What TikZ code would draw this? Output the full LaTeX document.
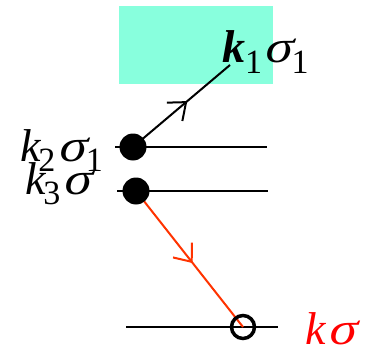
\documentclass[tikz,border=0pt]{standalone}
\usepackage{fontspec}
\setmainfont{Liberation Serif}
\newfontfamily\grk[FakeSlant=0.2]{Liberation Serif}
\usetikzlibrary{arrows.meta,decorations.markings}
\definecolor{boxcyan}{RGB}{136,255,221}
\definecolor{lred}{RGB}{255,51,0}
\newcommand\lsub[1]{\raisebox{-10pt}{\fontsize{34}{34}\selectfont #1}}
\newcommand\ksub[1]{\kern-3pt\lsub{#1}\kern2pt}
\newcommand\sig{\scalebox{1.15}[1]{\grk σ}}
\begin{document}
\begin{tikzpicture}[x=1pt,y=-1pt,
  lvl/.style={line width=2pt},
  dotnode/.style={circle,fill=black,inner sep=0pt,minimum size=27pt},
  holenode/.style={circle,draw=black,line width=3.5pt,inner sep=0pt,minimum size=23pt},
  lbl/.style={anchor=base west,inner sep=0pt,text height=30pt,text depth=0pt,font=\fontsize{46}{46}\selectfont},
  midarrow/.style={line width=2pt,decoration={markings,mark=at position #1 with {\arrow{Straight Barb[length=15pt,width=24pt,line width=2pt]}}},postaction={decorate}}
]
\useasboundingbox (0,0) rectangle (373,348);
\fill[boxcyan] (119,6) rectangle (273,84);
% coordinates
\coordinate (l1a) at (115,147); \coordinate (l1b) at (267,147);
\coordinate (l2a) at (117,191); \coordinate (l2b) at (268,191);
\coordinate (l3a) at (126,327); \coordinate (l3b) at (278,327);
\coordinate (d1) at (133,147);
\coordinate (d2) at (136,191);
\coordinate (h) at (243,327);
\coordinate (kend) at (230,65);
\draw[lvl] (l1a) -- (l1b);
\draw[lvl] (l2a) -- (l2b);
\draw[lvl] (l3a) -- (l3b);
\draw[midarrow=0.56] (d1) -- (kend);
\draw[midarrow=0.53,draw=lred,color=lred] (d2) -- (h);
\node[dotnode] (dot1) at (d1) {};
\node[dotnode] (dot2) at (d2) {};
\node[holenode] (hole) at (h) {};
\node[lbl] (t1) at (222,63) {\textbf{\textit{k}}\lsub{1}\kern1pt\sig\lsub{1}};
\node[lbl] (t2) at (20,161) {\textit{k}\ksub{2}\sig\lsub{1}};
\node[lbl] (t3) at (25,194) {\textit{k}\ksub{3}\sig};
\node[lbl,text=red] (t4) at (305,344) {\textit{k}\kern1pt\sig};
\end{tikzpicture}
\end{document}
